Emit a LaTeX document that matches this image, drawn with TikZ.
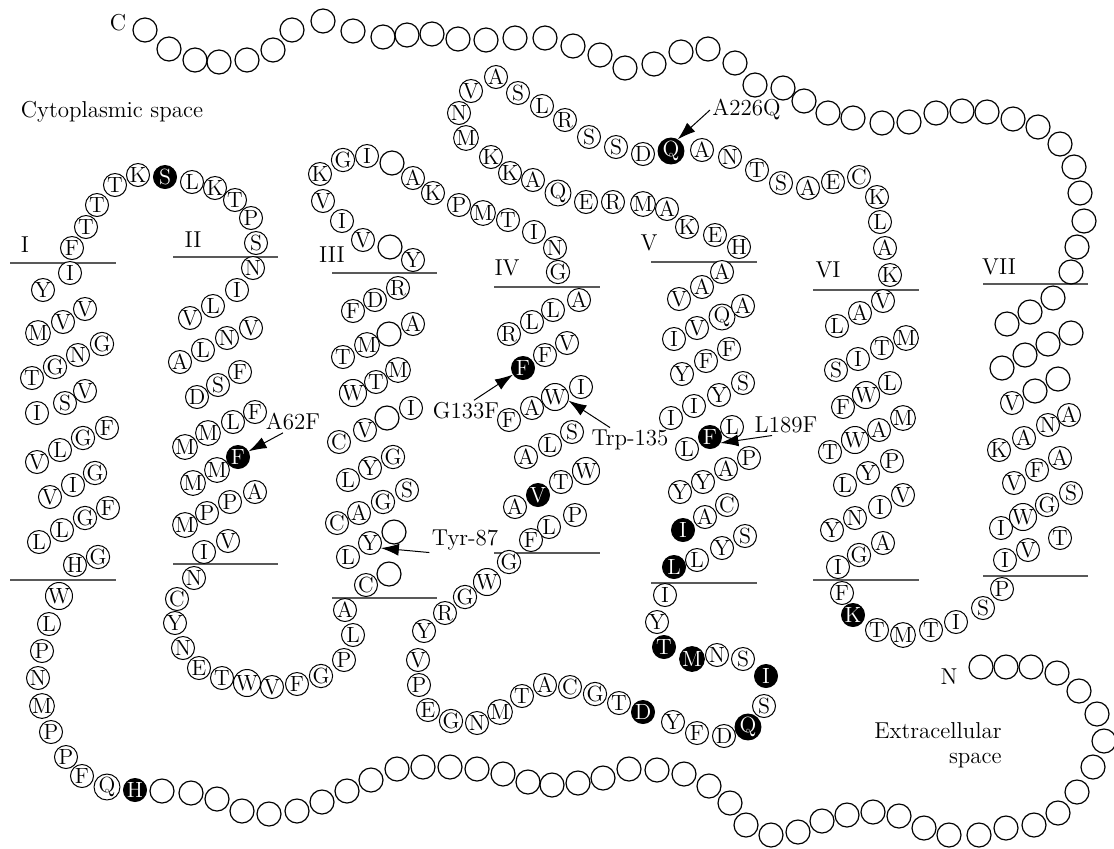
\documentclass[tikz,border=0pt]{standalone}
\usepackage{fontspec}
\usetikzlibrary{arrows.meta}
\tikzset{
  res/.style={circle,draw,fill=white,line width=0.5pt,minimum size=11.5pt,inner sep=0pt,font=\fontsize{11}{11}\selectfont},
  mut/.style={res,fill=black,text=white},
  tube/.style={circle,draw,line width=0.6pt,minimum size=12pt,inner sep=0pt},
  mem/.style={draw=black!65,line width=0.8pt},
  lab/.style={font=\fontsize{11.5}{12.5}\selectfont,inner sep=1pt},
  arr/.style={-{Latex[length=9pt,width=6pt]},line width=0.5pt}
}
\begin{document}
\begin{tikzpicture}[x=0.5pt,y=-0.5pt]
\useasboundingbox (0,0) rectangle (1114,848);
% membrane borders
\foreach \xa/\xb/\ya/\yb in {10/116/263/580, 173/278/257/564, 332/437/273/598, 494/600/287/553, 651/757/262/583, 813/919/290/580, 983/1088/284/576}{
  \draw[mem] (\xa,\ya) -- (\xb,\ya);
  \draw[mem] (\xa,\yb) -- (\xb,\yb);
}
\node[lab] (hI) at (25,245) {I};
\node[lab] (hII) at (193,240) {II};
\node[lab] (hIII) at (332,255) {III};
\node[lab] (hIV) at (507,268) {IV};
\node[lab] (hV) at (649,243) {V};
\node[lab] (hVI) at (828,270) {VI};
\node[lab] (hVII) at (999,267) {VII};
% unlabelled residues
\foreach \x/\y [count=\i] in {145/30, 169/49, 195/60, 219/62, 247/60, 273/50, 292/30, 323/21, 353/31, 383/37, 407/35, 432/34, 458/39, 486/40, 515/38, 545/38, 573/46, 600/55, 625/68, 654/64, 681/52, 708/49, 735/63, 755/85, 783/88, 804/101, 828/113, 853/118, 882/123, 909/122, 936/113, 962/111, 987/112, 1013/119, 1038/127, 1060/144, 1074/167, 1080/193, 1084/221, 1077/247, 1071/272, 1053/298, 1030/312, 1007/324, 1071/333, 1048/344, 1025/355, 1002/368, 1058/379, 1035/391}
  \node[tube] (ct\i) at (\x,\y) {};
\foreach \x/\y [count=\i] in {162/791, 191/793, 217/799, 242/811, 269/814, 297/811, 322/802, 347/791, 371/780, 397/769, 423/767, 450/767, 477/769, 503/774, 528/782, 552/785, 578/783, 603/778, 629/769, 657/770, 684/774, 709/786, 730/803, 746/825, 771/835, 798/832, 822/821, 847/815, 873/812, 899/816, 924/828, 949/835, 979/835, 1006/828, 1034/825, 1058/813, 1077/792, 1093/767, 1104/741, 1097/714, 1079/691, 1057/673, 1031/667, 1006/667, 981/667}
  \node[tube] (nt\i) at (\x,\y) {};
\foreach \x/\y [count=\i] in {389/334, 387/418, 394/532, 389/574, 392/163, 390/247}
  \node[tube] (e\i) at (\x,\y) {};
% helix I
\foreach \t/\x/\y [count=\i] in {Q/107/787, F/82/776, P/66/757, P/51/732, M/42/706, N/38/678, P/42/651, L/49/624, W/59/596, H/75/565, G/98/557, L/39/542, L/62/530, G/85/518, F/108/508, V/50/497, I/73/485, G/95/473, V/37/462, L/60/450, G/83/438, F/107/428, I/37/413, S/65/403, V/85/391, T/32/378, G/55/367, N/78/355, G/102/344, M/38/333, V/63/322, V/85/309, Y/43/290, I/70/273, F/72/248, T/86/227, T/97/205, T/115/185, K/138/175, L/192/182, K/215/188, T/235/200, P/251/218, S/256/243, N/253/268}
  \node[res] (a\i) at (\x,\y) {\t};
% helix II
\foreach \t/\x/\y [count=\i] in {I/237/290, L/213/306, V/190/318, V/251/328, N/227/338, L/203/350, A/180/362, F/240/372, S/218/385, D/197/397, F/255/412, L/233/422, M/208/433, M/185/447, M/217/470, M/193/483, A/255/492, P/230/502, P/207/513, M/185/525, V/228/541, I/204/552, N/194/578, C/177/599, Y/175/623, N/183/648, E/199/668, T/222/678, W/247/683, V/272/687, F/297/684, G/321/676, P/344/660, L/353/635, A/345/610}
  \node[res] (b\i) at (\x,\y) {\t};
% helix III
\foreach \t/\x/\y [count=\i] in {C/366/585, L/348/557, C/337/523, A/359/513, G/383/502, S/407/490, L/348/480, Y/370/468, G/393/457, C/339/442, V/365/430, I/411/408, W/353/393, T/376/382, M/398/370, T/343/357, M/367/345, A/413/324, F/353/311, D/375/300, R/398/288, Y/413/260, V/363/240, I/342/221, V/323/201, K/320/174, G/343/160, I/367/156, A/413/178, K/433/193, P/459/205, M/483/213, T/508/220, I/534/232, N/555/248, G/558/272}
  \node[res] (c\i) at (\x,\y) {\t};
% helix IV
\foreach \t/\x/\y [count=\i] in {A/579/300, L/553/310, L/532/322, R/509/334, V/567/343, F/545/355, I/581/387, A/532/408, F/509/420, S/572/432, L/550/445, A/526/457, W/586/471, T/561/482, A/515/507, P/575/515, L/549/527, F/531/540, G/509/562, W/487/582, G/465/597, R/445/613, Y/424/631, V/418/660, P/419/685, E/428/710, G/451/721, N/477/723, M/500/712, T/522/696, A/545/685, C/570/687, G/595/694, T/619/703, Y/673/722, F/697/733, D/724/736, S/764/706, S/743/659, N/717/655, Y/657/622, I/665/595}
  \node[res] (d\i) at (\x,\y) {\t};
% helix V
\foreach \t/\x/\y [count=\i] in {L/697/560, Y/722/548, S/745/536, A/705/517, C/727/505, Y/680/492, Y/703/482, A/726/469, P/749/458, L/687/449, L/732/427, I/671/418, I/694/406, Y/719/395, S/743/383, Y/682/374, F/706/361, F/729/349, I/674/339, V/697/328, Q/722/317, A/743/306, V/679/299, A/702/287, A/722/272, H/739/247, E/715/235, K/687/227, A/667/209, M/643/204, R/613/202, E/586/202, Q/558/193, A/533/180, K/510/173, K/491/157, M/466/138, N/459/113, V/471/91, A/496/77, S/518/93, L/542/106, R/565/120, S/589/137, S/616/147, D/643/154, A/702/150, N/730/157, T/757/170, S/781/183, A/808/188, E/833/182, C/859/177, K/877/197, L/880/222, A/885/248, K/890/275}
  \node[res] (f\i) at (\x,\y) {\t};
% helix VI and VII
\foreach \t/\x/\y [count=\i] in {V/883/301, A/860/313, L/837/326, M/906/338, T/882/348, I/858/359, S/836/370, L/890/383, W/866/395, F/843/407, M/903/418, A/879/430, W/855/440, T/830/452, P/892/461, Y/868/473, L/845/485, V/903/495, I/880/507, N/855/518, Y/832/530, A/883/543, G/859/555, I/838/567, F/842/593, T/877/630, M/903/635, T/931/630, I/956/622, S/983/608, P/1002/589, I/1005/560, V/1028/550, T/1060/538, I/1001/528, W/1023/517, G/1047/505, S/1071/493, V/1014/483, F/1037/470, A/1060/458, K/999/450, A/1024/438, N/1048/425, A/1069/415, V/1012/403}
  \node[res] (g\i) at (\x,\y) {\t};
% marked residues
\node[mut] (h0) at (135,790) {H};
\node[mut] (s0) at (165,177) {S};
\node[mut] (f62) at (238,457) {F};
\node[res] (y87) at (370,543) {Y};
\node[mut] (f133) at (523,368) {F};
\node[res] (w135) at (555,397) {W};
\node[mut] (v0) at (538,495) {V};
\node[mut] (d0) at (643,712) {D};
\node[mut] (q0) at (748,727) {Q};
\node[mut] (i1) at (766,676) {I};
\node[mut] (m0) at (692,659) {M};
\node[mut] (t0) at (664,647) {T};
\node[mut] (l0) at (674,567) {L};
\node[mut] (i2) at (683,530) {I};
\node[mut] (f189) at (710,437) {F};
\node[mut] (q226) at (671,151) {Q};
\node[mut] (k0) at (853,615) {K};
% labels
\node[lab] (cterm) at (118,23) {C};
\node[lab] (nterm) at (949,677) {N};
\node[lab] (cyto) at (112,112) {Cytoplasmic space};
\node[lab,align=right] (extra) at (938,745) {Extracellular\\space};
\node[lab] (a62f) at (293,422) {A62F};
\node[lab] (g133f) at (466,411) {G133F};
\node[lab] (trp135) at (630,440) {Trp-135};
\node[lab] (tyr87) at (465,540) {Tyr-87};
\node[lab] (l189f) at (786,425) {L189F};
\node[lab,anchor=west] (a226q) at (710,110) {A226Q};
\draw[arr] ([xshift=-5pt]a62f.south) -- (f62);
\draw[arr] ([xshift=4pt]g133f.north) -- (f133);
\draw[arr] ([xshift=-10pt]trp135.north) -- (w135.-15);
\draw[arr] (tyr87.south west) -- (y87.-25);
\draw[arr] ([xshift=-7pt]l189f.south) -- (f189.-30);
\draw[arr] (a226q.west) -- (q226.60);
\end{tikzpicture}
\end{document}
